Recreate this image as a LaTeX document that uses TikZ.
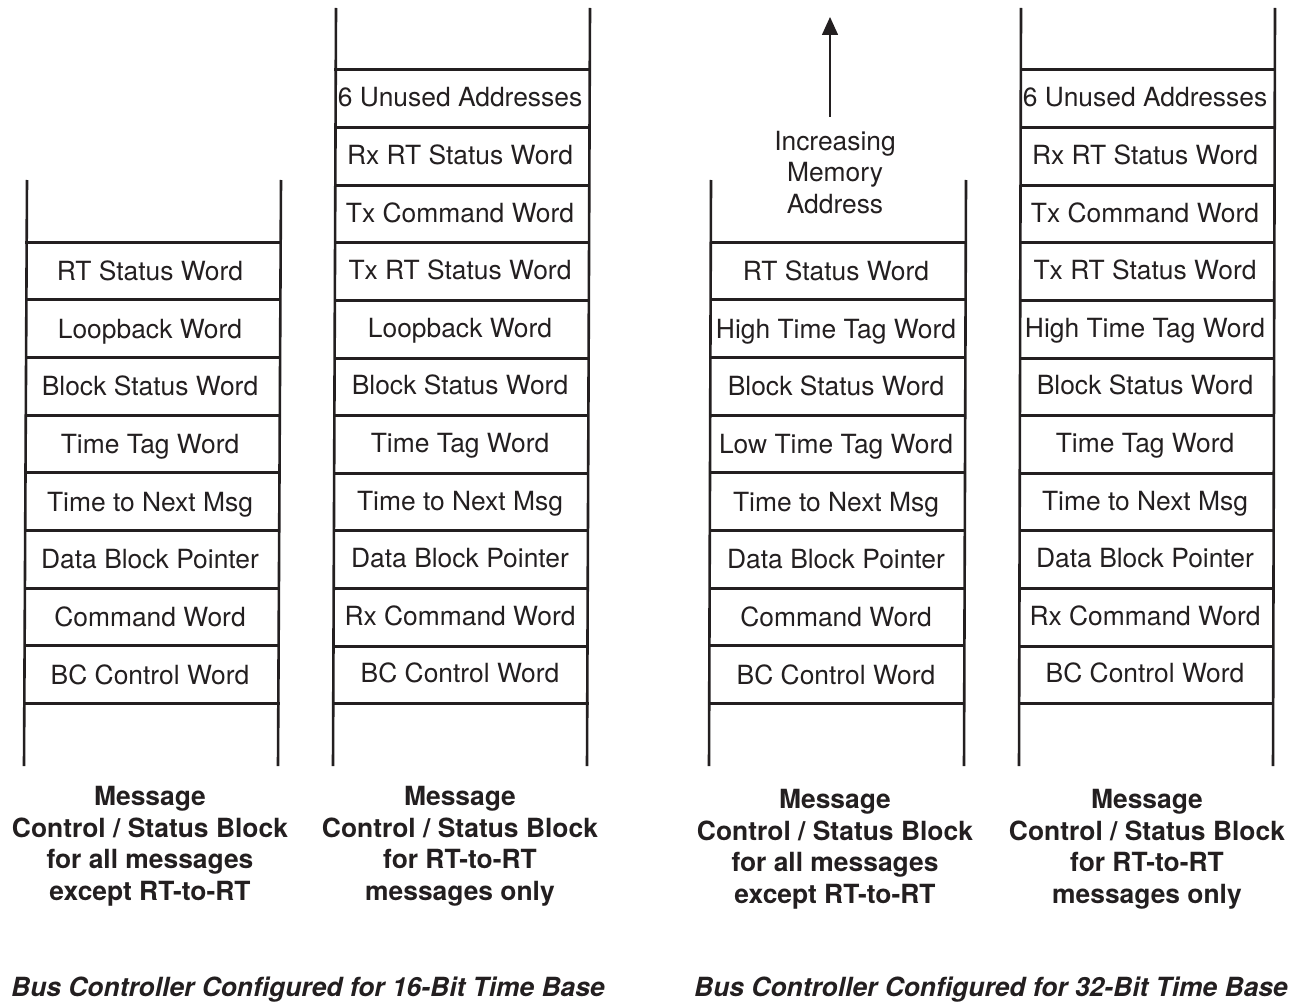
\documentclass[tikz,border=0pt]{standalone}
\usepackage{fontspec}
\setmainfont{TeX Gyre Heros}
\usetikzlibrary{arrows.meta}
\definecolor{ink}{HTML}{231F20}
\begin{document}
\begin{tikzpicture}[x=1pt,y=-1pt,
  wordtext/.style={font=\fontsize{26.4}{31.7}\selectfont, text=ink, anchor=base, inner sep=0pt},
  multitext/.style={font=\fontsize{26.4}{31.7}\selectfont, text=ink, align=center, anchor=base, inner sep=0pt},
  captext/.style={font=\fontsize{26.4}{31.7}\selectfont\bfseries, text=ink, align=center, anchor=base, inner sep=0pt},
  titletext/.style={font=\fontsize{26.4}{31.7}\selectfont\bfseries\itshape, text=ink, anchor=base, inner sep=0pt},
  rail/.style={draw=ink, line width=2.6pt},
  rung/.style={draw=ink, line width=3pt},
  pointer/.style={draw=ink, line width=1.5pt, -{Triangle[width=16pt,length=18pt]}}]
\useasboundingbox (0,0) rectangle (1297,1003);

% ---------- Column 1 ----------
\draw[rail] (27,180) -- (24,766);
\draw[rail] (281,180) -- (278,766);
\foreach \k in {0,...,8} \draw[rung] (25,{242+57.7*\k}) -- (280,{242+57.7*\k});
\foreach \t [count=\i from 0] in {RT Status Word, Loopback Word, Block Status Word, Time Tag Word, Time to Next Msg, Data Block Pointer, Command Word, BC Control Word}
  \node[wordtext] (a\i) at (150,{242+57.7*(\i+0.5)+9.5}) {\t};

% ---------- Column 2 ----------
\draw[rail] (336,8) -- (333,766);
\draw[rail] (590,8) -- (587,766);
\foreach \k in {0,...,11} \draw[rung] (334,{70+57.6*\k}) -- (589,{70+57.6*\k});
\foreach \t [count=\i from 0] in {6 Unused Addresses, Rx RT Status Word, Tx Command Word, Tx RT Status Word, Loopback Word, Block Status Word, Time Tag Word, Time to Next Msg, Data Block Pointer, Rx Command Word, BC Control Word}
  \node[wordtext] (b\i) at (460,{70+57.6*(\i+0.5)+8}) {\t};

% ---------- Column 3 ----------
\draw[rail] (711,180) -- (709,766);
\draw[rail] (966,180) -- (964,766);
\foreach \k in {0,...,8} \draw[rung] (710,{242+57.7*\k}) -- (965,{242+57.7*\k});
\foreach \t [count=\i from 0] in {RT Status Word, High Time Tag Word, Block Status Word, Low Time Tag Word, Time to Next Msg, Data Block Pointer, Command Word, BC Control Word}
  \node[wordtext] (c\i) at (836,{242+57.7*(\i+0.5)+9.5}) {\t};

% ---------- Column 4 ----------
\draw[rail] (1021,8) -- (1019,766);
\draw[rail] (1275,8) -- (1273,766);
\foreach \k in {0,...,11} \draw[rung] (1020,{70+57.6*\k}) -- (1274,{70+57.6*\k});
\foreach \t [count=\i from 0] in {6 Unused Addresses, Rx RT Status Word, Tx Command Word, Tx RT Status Word, High Time Tag Word, Block Status Word, Time Tag Word, Time to Next Msg, Data Block Pointer, Rx Command Word, BC Control Word}
  \node[wordtext] (d\i) at (1145,{70+57.6*(\i+0.5)+8}) {\t};

% ---------- Increasing memory address ----------
\node[multitext] (incr) at (835,213.5) {Increasing\\Memory\\Address};
\coordinate (tail) at (830,117);
\coordinate (tip) at (830,17);
\draw[pointer] (tail) -- (tip);

% ---------- Captions ----------
\node[captext] (cap1) at (150,900.5) {Message\\Control / Status Block\\for all messages\\except RT-to-RT};
\node[captext] (cap2) at (460,900.5) {Message\\Control / Status Block\\for RT-to-RT\\messages only};
\node[captext] (cap3) at (835,903.5) {Message\\Control / Status Block\\for all messages\\except RT-to-RT};
\node[captext] (cap4) at (1147,903.5) {Message\\Control / Status Block\\for RT-to-RT\\messages only};

\node[titletext] (t1) at (308,996) {Bus Controller Configured for 16-Bit Time Base};
\node[titletext] (t2) at (991,996) {Bus Controller Configured for 32-Bit Time Base};
\end{tikzpicture}
\end{document}
